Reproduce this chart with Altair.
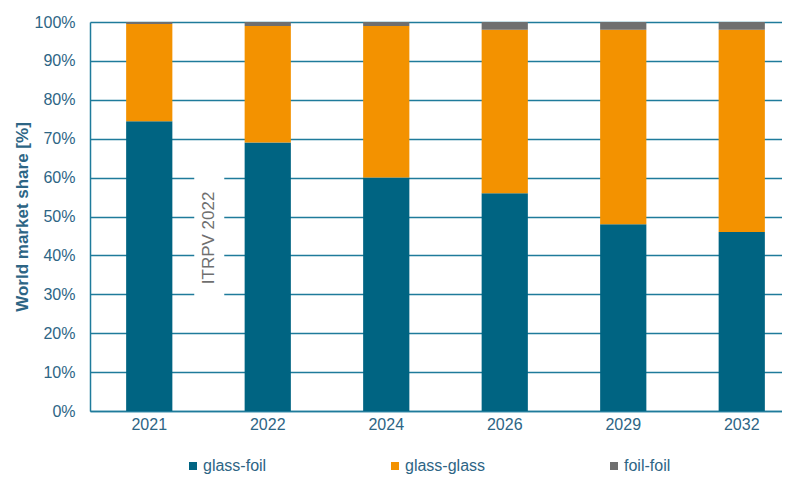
import altair as alt
import pandas as pd

years = ["2021", "2022", "2024", "2026", "2029", "2032"]
series = ["glass-foil", "glass-glass", "foil-foil"]
glass_foil = [74.5, 69, 60, 56, 48, 46]
glass_glass = [25, 30, 39, 42, 50, 52]
foil_foil = [0.5, 1, 1, 2, 2, 2]
colors = ["#006482", "#f39200", "#6f6f6f"]
y_ticks = [0, 10, 20, 30, 40, 50, 60, 70, 80, 90, 100]

rows = []
for i, y in enumerate(years):
    for k, (name, vals) in enumerate(zip(series, [glass_foil, glass_glass, foil_foil])):
        rows.append({"year": y, "type": name, "share": vals[i], "order": k})
df = pd.DataFrame(rows)

ann = pd.DataFrame({"year": ["2021"], "label": ["ITRPV 2022"], "y": [44.5], "y0": [28.5], "y1": [61.5]})

TEAL = "#1f7b9b"
LABEL = "#2d6585"
FONT = "Liberation Sans"

xscale = alt.Scale(domain=years, range=[0, 711], paddingInner=0.61, paddingOuter=0.305)
yscale = alt.Scale(domain=[0, 100], nice=False)

xaxis = alt.Axis(title=None, labelAngle=0, ticks=False, labelPadding=5,
                 domainColor=TEAL, domainWidth=1.5, grid=False,
                 labelFontSize=16, labelColor=LABEL, labelFont=FONT)
yaxis = alt.Axis(title="World market share [%]", values=y_ticks,
                 labelExpr="datum.value + '%'", ticks=False, labelPadding=15,
                 labelOverlap=False,
                 labelFontSize=16, labelColor=LABEL, labelFont=FONT,
                 domainColor=TEAL, domainWidth=1.5,
                 gridColor=TEAL, gridWidth=1.5,
                 titleFont=FONT, titleFontSize=17, titleFontWeight="bold",
                 titleColor=LABEL, titlePadding=3)

bars = alt.Chart(df).mark_bar().encode(
    x=alt.X("year:N", scale=xscale, sort=years, axis=xaxis),
    y=alt.Y("share:Q", stack="zero", scale=yscale, axis=yaxis),
    color=alt.Color("type:N", scale=alt.Scale(domain=series, range=colors),
                    legend=alt.Legend(title=None, orient="none", direction="horizontal",
                                      legendX=95, legendY=436, symbolType="square",
                                      symbolSize=64, symbolStrokeWidth=0, labelFontSize=16,
                                      labelColor=LABEL, labelFont=FONT, columnPadding=120,
                                      labelOffset=2, padding=0, labelLimit=200)),
    order=alt.Order("order:Q", sort="ascending"),
)

box = alt.Chart(ann).mark_rule(color="white", strokeWidth=30, xOffset=60).encode(
    x=alt.X("year:N", scale=xscale, sort=years, axis=xaxis),
    y=alt.Y("y0:Q", scale=yscale, axis=yaxis),
    y2="y1:Q",
)

txt = alt.Chart(ann).mark_text(angle=270, xOffset=60, fontSize=17, color="#6f6f6f", font=FONT).encode(
    x=alt.X("year:N", scale=xscale, sort=years, axis=xaxis),
    y=alt.Y("y:Q", scale=yscale, axis=yaxis),
    text="label:N",
)

chart = alt.layer(bars, box, txt).properties(
    width=692, height=389,
    autosize=alt.AutoSizeParams(type="none"),
    padding={"left": 82, "top": 14, "right": 0, "bottom": 64},
).configure_view(stroke=None)

chart.save("out.html", embed_options={"renderer": "svg", "actions": False})
